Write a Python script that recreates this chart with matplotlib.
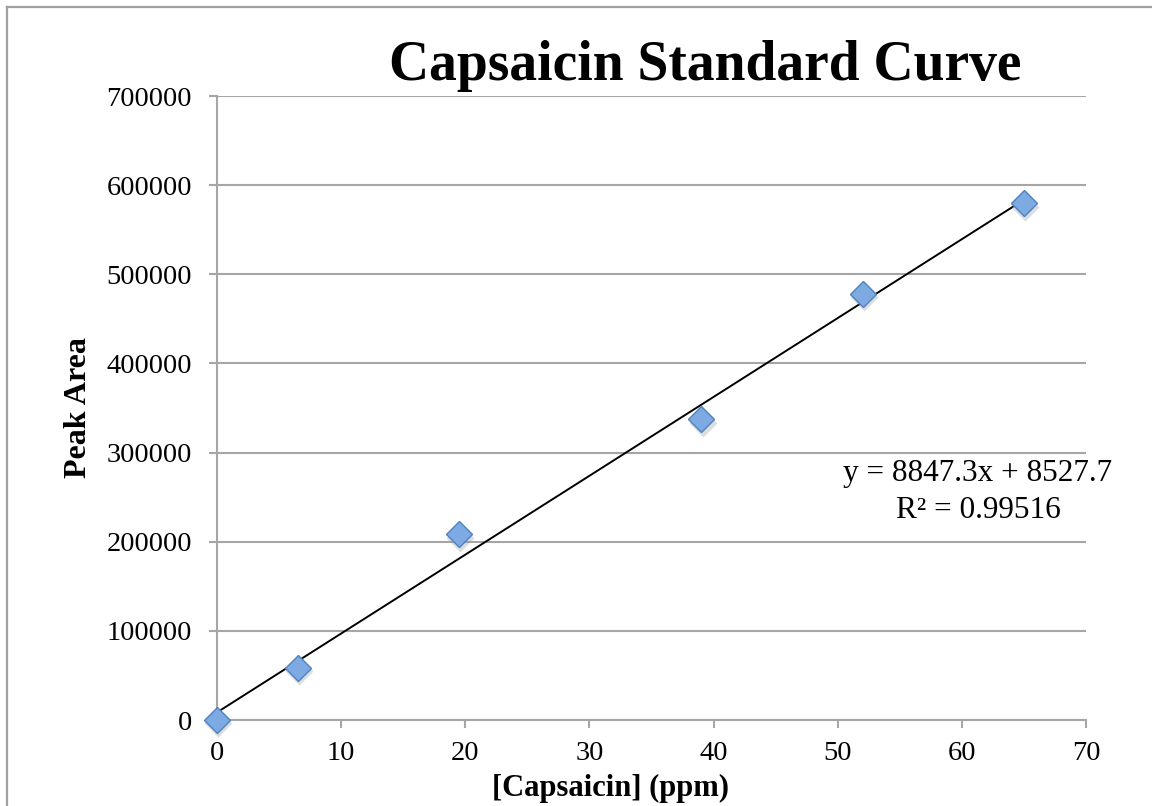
import matplotlib
matplotlib.use("Agg")
import matplotlib.pyplot as plt
from matplotlib.lines import Line2D
import matplotlib.transforms as mtransforms
import numpy as np

# Data
conc_ppm = [0, 6.5, 19.5, 39, 52, 65]
peak_area = [0, 58500, 208500, 337500, 478000, 579500]
slope = 8847.3
intercept = 8527.7
r_squared = 0.99516

title = "Capsaicin Standard Curve"
xlabel = "[Capsaicin] (ppm)"
ylabel = "Peak Area"
xticks = [0, 10, 20, 30, 40, 50, 60, 70]
yticks = [0, 100000, 200000, 300000, 400000, 500000, 600000, 700000]

plt.rcParams['font.family'] = ['Liberation Serif', 'DejaVu Serif']

W, H = 1152, 806
fig = plt.figure(figsize=(W / 100, H / 100), dpi=100)
ax = fig.add_axes([217 / W, 1 - 720 / H, (1086 - 217) / W, (720 - 96) / H])

grid_c = '#a6a6a6'
ax.set_xlim(0, 70)
ax.set_ylim(0, 700000)
ax.set_yticks(yticks)
ax.set_xticks(xticks)
ax.set_yticklabels([str(v) for v in yticks], fontsize=20.5)
ax.set_xticklabels([str(v) for v in xticks], fontsize=20.5)
ax.yaxis.grid(True, color=grid_c, linewidth=1.5)
ax.set_axisbelow(True)
for s in ['top', 'right']:
    ax.spines[s].set_visible(False)
for s in ['left', 'bottom']:
    ax.spines[s].set_color(grid_c)
    ax.spines[s].set_linewidth(1.5)
ax.tick_params(axis='both', direction='out', length=6, width=1.5, color=grid_c)
ax.tick_params(axis='y', pad=12)
ax.tick_params(axis='x', pad=9)

# Trendline
xf = np.array([min(conc_ppm), max(conc_ppm)])
ax.plot(xf, slope * xf + intercept, color='black', linewidth=1.4, zorder=3)

# Shadow + markers
shadow_tr = ax.transData + mtransforms.ScaledTranslation(1.0 / 72, -2.5 / 72, fig.dpi_scale_trans)
ax.plot(conc_ppm, peak_area, linestyle='none', marker='D', markersize=14,
        markerfacecolor='#8a8f96', markeredgecolor='none', alpha=0.3,
        transform=shadow_tr, zorder=3.5, clip_on=False)
ax.plot(conc_ppm, peak_area, linestyle='none', marker='D', markersize=13.5,
        markerfacecolor='#7eaae3', markeredgecolor='#4f81bd', markeredgewidth=1.0,
        zorder=4, clip_on=False)

# Equation text
fig.text(978 / W, 1 - 473 / H, f"y = {slope}x + {intercept}",
         ha='center', va='center', fontsize=22.5)
fig.text(978 / W, 1 - 511 / H, f"R² = {r_squared}",
         ha='center', va='center', fontsize=22.5)

fig.text(705 / W, 1 - 66 / H, title, ha='center', va='center', fontsize=40, fontweight='bold')
fig.text(610 / W, 1 - 788 / H, xlabel, ha='center', va='center', fontsize=22, fontweight='bold')
fig.text(78 / W, 1 - 408 / H, ylabel, ha='center', va='center', fontsize=23, fontweight='bold', rotation=90)

# Outer border
fig.add_artist(Line2D([7 / W, 1], [1 - 7 / H, 1 - 7 / H], transform=fig.transFigure, color='#a0a0a0', linewidth=1.6))
fig.add_artist(Line2D([7 / W, 7 / W], [0, 1 - 7 / H], transform=fig.transFigure, color='#a0a0a0', linewidth=1.6))

fig.savefig("out.png", dpi=100)
